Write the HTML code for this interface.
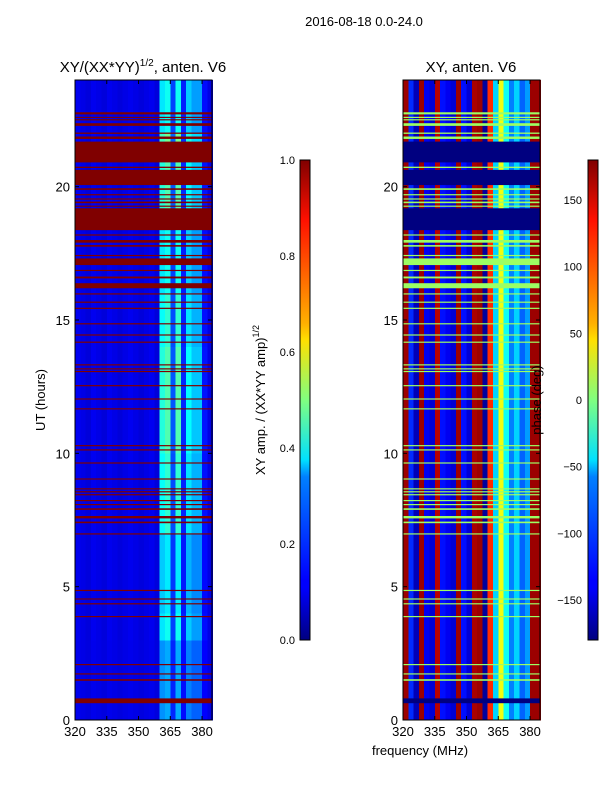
<!DOCTYPE html>
<html><head><meta charset="utf-8">
<style>
body{margin:0;background:#fff;}
svg{display:block;font-family:"Liberation Sans",sans-serif;}
text{fill:#000;}
</style></head>
<body>
<svg id="fig" width="600" height="800" viewBox="0 0 600 800">
<defs>
<linearGradient id="jetg" x1="0" y1="1" x2="0" y2="0">
<stop offset="0" stop-color="#000080"/><stop offset="0.11" stop-color="#0000ff"/>
<stop offset="0.125" stop-color="#0000ff"/><stop offset="0.34" stop-color="#0080ff"/>
<stop offset="0.375" stop-color="#00e0ff"/><stop offset="0.5" stop-color="#80ff80"/>
<stop offset="0.625" stop-color="#ffe000"/><stop offset="0.66" stop-color="#ffb000"/>
<stop offset="0.875" stop-color="#ff1000"/><stop offset="1" stop-color="#800000"/>
</linearGradient>
</defs>
<text x="364" y="26" font-size="13" text-anchor="middle">2016-08-18 0.0-24.0</text>
<text x="143" y="72" font-size="15" text-anchor="middle">XY/(XX*YY)<tspan font-size="10" dy="-6">1/2</tspan><tspan dy="6">, anten. V6</tspan></text>
<text x="471" y="72" font-size="15" text-anchor="middle">XY, anten. V6</text>
<g id="leftPlot"></g>
<g id="rightPlot"></g>
<g id="axes"></g>
<rect x="300" y="160" width="10" height="480" fill="url(#jetg)" stroke="#000" stroke-width="1"/>
<rect x="588" y="160" width="10" height="480" fill="url(#jetg)" stroke="#000" stroke-width="1"/>
<text transform="translate(265,400) rotate(-90)" font-size="13" text-anchor="middle">XY amp. / (XX*YY amp)<tspan font-size="9" dy="-6">1/2</tspan></text>
<text transform="translate(541,400) rotate(-90)" font-size="13" text-anchor="middle">phase (deg)</text>
<text transform="translate(45,400) rotate(-90)" font-size="13" text-anchor="middle">UT (hours)</text>
<text x="420" y="755" font-size="13" text-anchor="middle">frequency (MHz)</text>
</svg>
<script>
const freqCenters=[321.25,323.75,326.25,328.75,331.25,333.75,336.25,338.75,341.25,343.75,346.25,348.75,351.25,353.75,356.25,358.75,361.25,363.75,366.25,368.75,371.25,373.75,376.25,378.75,381.25,383.75];
const ampCols=[0.11,0.1,0.09,0.11,0.1,0.09,0.11,0.1,0.09,0.1,0.11,0.1,0.09,0.1,0.11,0.09,0.38,0.42,0.2,0.42,0.16,0.35,0.3,0.3,0.14,0.1];
const phaseCols=[170,-120,-160,170,-140,-150,160,-130,-140,-150,170,-130,-150,165,170,-170,120,-60,40,-40,-90,-60,-100,-80,170,170];
const hourFactor=[0.6,0.6,0.6,0.9,0.8,0.8,0.8,1.0,1.0,1.0,1.1,1.1,1.1,1.1,1.0,1.0,0.9,0.9,0.9,1.1,1.1,1.2,0.9,0.9];
const flagStart=[22.71,22.58,22.49,22.28,21.98,21.79,20.91,20.7,20.06,19.88,19.68,19.52,19.38,19.25,18.37,18.17,17.9,17.75,17.4,17.06,16.84,16.56,16.19,15.96,15.65,15.42,14.84,14.42,14.15,13.3,13.15,13.05,12.52,12.02,11.65,10.27,10.11,9.62,9.02,8.65,8.54,8.43,8.21,8.06,7.88,7.56,7.38,6.96,4.84,4.52,4.34,3.86,2.06,1.71,1.47,0.63];
const flagEnd=[22.79,22.62,22.53,22.38,22.03,21.88,21.69,20.75,20.63,19.94,19.72,19.56,19.44,19.29,19.19,18.21,18.0,17.81,17.44,17.31,16.88,16.63,16.38,16.0,15.69,15.46,14.88,14.46,14.19,13.34,13.19,13.09,12.56,12.06,11.69,10.31,10.15,9.66,9.06,8.69,8.58,8.47,8.25,8.1,7.94,7.65,7.44,7.0,4.88,4.56,4.38,3.9,2.1,1.75,1.53,0.81];
const flagPhase=[10,10,10,10,10,10,-180,10,-180,10,10,10,10,10,-180,10,10,10,10,10,10,10,10,10,10,10,10,10,10,10,10,10,10,10,10,10,10,10,10,10,10,10,10,10,10,10,10,10,10,10,10,10,10,10,10,-180];
const yTicks=[0,5,10,15,20];
const xTicks=[320,335,350,365,380];
const ampTicks=[0.0,0.2,0.4,0.6,0.8,1.0];
const phaseTicks=[-150,-100,-50,0,50,100,150];

const NS='http://www.w3.org/2000/svg';
const fMin=320,fMax=384.7,tMin=0,tMax=24,pTop=80,pBot=720;
const xL=f=>75+(f-fMin)/(fMax-fMin)*137;
const xR=f=>403+(f-fMin)/(fMax-fMin)*137;
const yT=t=>pBot-(t-tMin)/(tMax-tMin)*(pBot-pTop);
function jet(v){v=Math.max(0,Math.min(1,v));
 const c=x=>Math.round(255*Math.max(0,Math.min(1,x)));
 return `rgb(${c(1.5-Math.abs(4*v-3))},${c(1.5-Math.abs(4*v-2))},${c(1.5-Math.abs(4*v-1))})`;}
function mk(tag,attrs,parent){const e=document.createElementNS(NS,tag);for(const k in attrs)e.setAttribute(k,attrs[k]);parent.appendChild(e);return e;}
const L=document.getElementById('leftPlot'),R=document.getElementById('rightPlot'),A=document.getElementById('axes');
const half=1.25;
for(let h=0;h<hourFactor.length;h++){
 for(let c=0;c<freqCenters.length;c++){
  const f=freqCenters[c];
  const amp=0.1+(ampCols[c]-0.1)*hourFactor[h];
  const r=mk('rect',{x:xL(f-half),y:yT(h+1),width:xL(f+half)-xL(f-half)+0.3,height:yT(h)-yT(h+1)+0.3,fill:jet(amp),'shape-rendering':'crispEdges'},L);
  
  
  const p=mk('rect',{x:xR(f-half),y:yT(h+1),width:xR(f+half)-xR(f-half)+0.3,height:yT(h)-yT(h+1)+0.3,fill:jet((phaseCols[c]+180)/360),'shape-rendering':'crispEdges'},R);
  
  
 }
}
for(let i=0;i<flagStart.length;i++){
 const y0=yT(flagEnd[i]),hh=Math.max(1.2,yT(flagStart[i])-y0);
 const a=mk('rect',{x:75,y:y0,width:137,height:hh,fill:jet(1.0)},L);
 
 
 const b=mk('rect',{x:403,y:y0,width:137,height:hh,fill:jet((flagPhase[i]+180)/360)},R);
 
 
}
[[75,xL],[403,xR]].forEach(([x0,xf],pi)=>{
 const fr=mk('rect',{x:x0,y:80,width:137,height:640,fill:'none',stroke:'#000','stroke-width':1},A);
 
 
 yTicks.forEach(t=>{
  const y=yT(t);
  mk('line',{x1:x0,x2:x0+4,y1:y,y2:y,stroke:'#000'},A);
  mk('line',{x1:x0+137,x2:x0+133,y1:y,y2:y,stroke:'#000'},A);
  const tx=mk('text',{x:x0-5,y:y+5,'font-size':13,'text-anchor':'end'},A);tx.textContent=t;
  
  
 });
 xTicks.forEach(f=>{
  const x=xf(f);
  mk('line',{x1:x,x2:x,y1:720,y2:716,stroke:'#000'},A);
  mk('line',{x1:x,x2:x,y1:80,y2:84,stroke:'#000'},A);
  const tx=mk('text',{x:x,y:736,'font-size':13,'text-anchor':'middle'},A);tx.textContent=f;
  
  
 });
});
ampTicks.forEach(v=>{
 const y=640-v*480;
 mk('line',{x1:300,x2:304,y1:y,y2:y,stroke:'#000'},A);mk('line',{x1:310,x2:306,y1:y,y2:y,stroke:'#000'},A);
 const tx=mk('text',{x:295,y:y+4,'font-size':11,'text-anchor':'end'},A);tx.textContent=v.toFixed(1);
 
 
});
phaseTicks.forEach(v=>{
 const y=400-v*480/360;
 mk('line',{x1:588,x2:592,y1:y,y2:y,stroke:'#000'},A);mk('line',{x1:598,x2:594,y1:y,y2:y,stroke:'#000'},A);
 const tx=mk('text',{x:582,y:y+4,'font-size':11,'text-anchor':'end'},A);tx.textContent=v<0?'\u2212'+(-v):String(v);
 
 
});
</script>
</body></html>
